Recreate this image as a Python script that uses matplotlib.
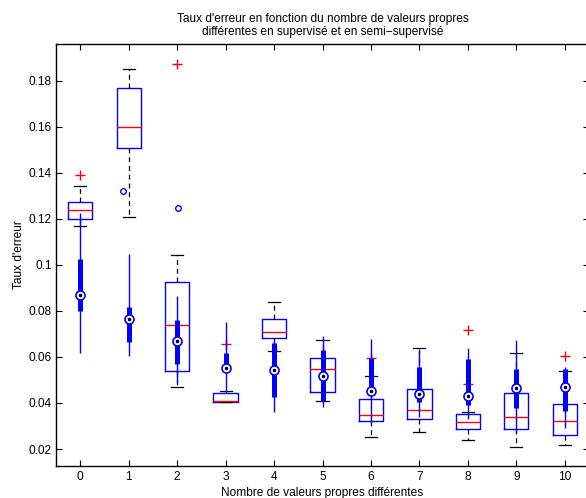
import matplotlib
matplotlib.use("Agg")
import matplotlib.pyplot as plt
import numpy as np

plt.rcParams['font.family'] = ['Liberation Sans', 'DejaVu Sans']

# Categories
labels = ['0', '1', '2', '3', '4', '5', '6', '7', '8', '9', '10']

# Supervised (classic boxes)
sup_q1 = [0.1199, 0.1506, 0.0539, 0.0403, 0.0681, 0.0446, 0.0320, 0.0332, 0.0289, 0.0289, 0.0260]
sup_med = [0.1240, 0.1598, 0.0737, 0.0410, 0.0708, 0.0547, 0.0348, 0.0371, 0.0318, 0.0339, 0.0320]
sup_q3 = [0.1274, 0.1770, 0.0927, 0.0443, 0.0764, 0.0594, 0.0417, 0.0461, 0.0351, 0.0442, 0.0397]
sup_lo = [0.1167, 0.1209, 0.0468, 0.0403, 0.0624, 0.0410, 0.0254, 0.0275, 0.0239, 0.0210, 0.0217]
sup_hi = [0.1344, 0.1851, 0.1044, 0.0452, 0.0839, 0.0675, 0.0517, 0.0639, 0.0360, 0.0617, 0.0539]
sup_out = [[0.1389], [], [0.1873], [0.0655], [], [], [0.0597], [], [0.0717, 0.0481], [], [0.0604]]

# Semi-supervised (compact boxes)
semi_q1 = [0.0801, 0.0664, 0.0569, 0.0536, 0.0426, 0.0410, 0.0433, 0.0403, 0.0392, 0.0377, 0.0365]
semi_med = [0.0868, 0.0764, 0.0671, 0.0553, 0.0544, 0.0517, 0.0453, 0.0440, 0.0429, 0.0466, 0.0469]
semi_q3 = [0.1025, 0.0818, 0.0759, 0.0618, 0.0662, 0.0630, 0.0597, 0.0556, 0.0591, 0.0548, 0.0548]
semi_lo = [0.0618, 0.0604, 0.0493, 0.0450, 0.0360, 0.0384, 0.0311, 0.0340, 0.0330, 0.0275, 0.0290]
semi_hi = [0.1225, 0.1046, 0.0866, 0.0752, 0.0670, 0.0692, 0.0679, 0.0630, 0.0637, 0.0674, 0.0555]
semi_out = [[], [0.1322], [0.1246], [], [], [], [], [], [], [], []]
semi_out_jitter = [[], [-0.12], [0.01], [], [], [], [], [], [], [], []]

yticks = [0.02, 0.04, 0.06, 0.08, 0.1, 0.12, 0.14, 0.16, 0.18]
ytick_labels = ['0.02', '0.04', '0.06', '0.08', '0.1', '0.12', '0.14', '0.16', '0.18']

FS = 8.6

fig = plt.figure(figsize=(5.86, 4.98), dpi=100)
ax = fig.add_axes([56 / 586, 1 - 465.7 / 498, (589 - 56) / 586, (465.7 - 44.3) / 498])

pos = np.arange(len(labels))

stats = []
for i in range(len(labels)):
    stats.append(dict(q1=sup_q1[i], med=sup_med[i], q3=sup_q3[i],
                      whislo=sup_lo[i], whishi=sup_hi[i], fliers=sup_out[i]))

blue = (0, 0, 1)
ax.bxp(stats, positions=pos, widths=0.5, capwidths=0.25, manage_ticks=False,
       boxprops=dict(color=blue, linewidth=1.0),
       whiskerprops=dict(color='black', linestyle=(0, (4, 3)), linewidth=0.9),
       capprops=dict(color='black', linewidth=0.9),
       medianprops=dict(color='red', linewidth=1.0),
       flierprops=dict(marker='+', markeredgecolor='red', markersize=6.5,
                       markeredgewidth=1.0, linestyle='none'))

# Compact boxes
ax.vlines(pos, semi_lo, semi_hi, colors=[blue], linewidth=1.0, zorder=3)
ax.vlines(pos, semi_q1, semi_q3, colors=[blue], linewidth=3.6, zorder=3)
ax.plot(pos, semi_med, linestyle='none', marker='o', markersize=6.5,
        markerfacecolor='white', markeredgecolor=blue, markeredgewidth=1.2, zorder=4)
ax.plot(pos, semi_med, linestyle='none', marker='o', markersize=1.6,
        markerfacecolor='black', markeredgecolor='black', zorder=5)
for i in range(len(labels)):
    for v, j in zip(semi_out[i], semi_out_jitter[i]):
        ax.plot(pos[i] + j, v, linestyle='none', marker='o', markersize=4,
                markerfacecolor='none', markeredgecolor=blue, markeredgewidth=1.0, zorder=4)

ax.set_xlim(-0.5, 10.5)
ax.set_ylim(0.01275, 0.1958)
ax.set_xticks(pos)
ax.set_xticklabels(labels)
ax.set_yticks(yticks)
ax.set_yticklabels(ytick_labels)
ax.tick_params(direction='in', length=4, width=0.8, labelsize=FS,
               top=True, right=True, color='black')
ax.tick_params(axis='y', pad=3)
ax.tick_params(axis='x', pad=4)
for s in ax.spines.values():
    s.set_linewidth(1.0)

ax.set_title("Taux d'erreur en fonction du nombre de valeurs propres\n"
             "différentes en supervisé et en semi\u2212supervisé",
             fontsize=FS, pad=6.5, linespacing=1.1)
ax.set_xlabel("Nombre de valeurs propres différentes", fontsize=FS, labelpad=2.5)
ax.set_ylabel("Taux d'erreur", fontsize=FS, labelpad=3)

fig.savefig("out.png", dpi=100)
